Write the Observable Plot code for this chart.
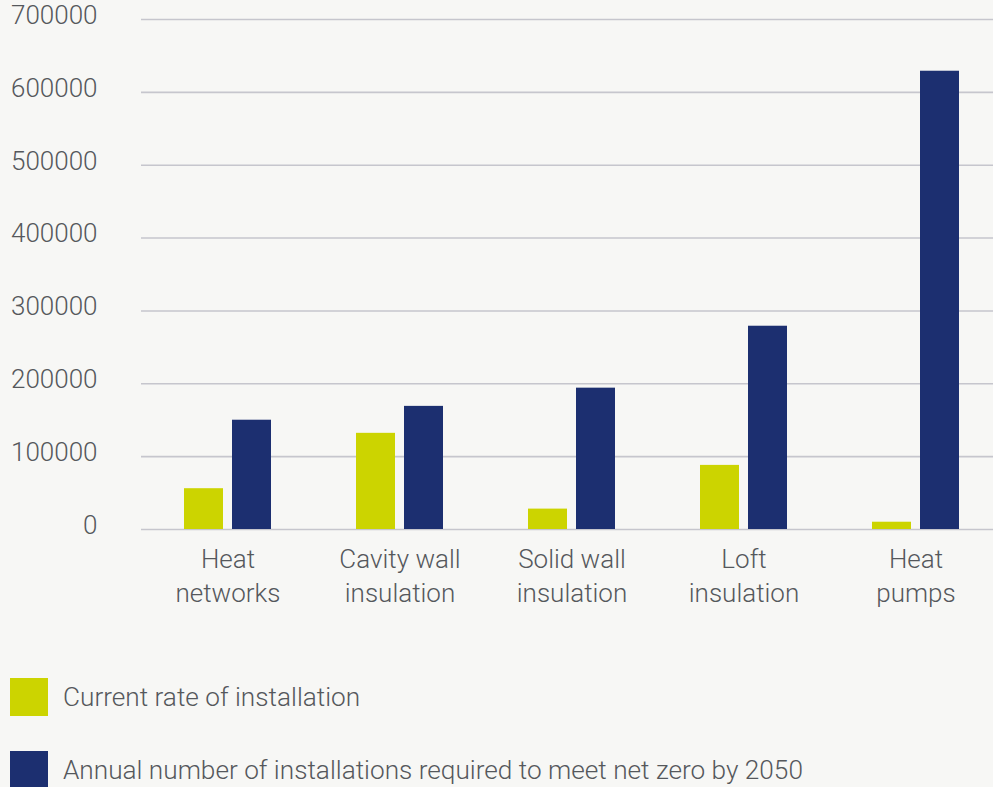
<!DOCTYPE html>
<html><head><meta charset="utf-8">
<script src="https://cdn.jsdelivr.net/npm/d3@7"></script>
<script src="https://cdn.jsdelivr.net/npm/@observablehq/plot@0.6"></script>
<style>
html,body{margin:0;padding:0;background:#f7f7f5;overflow:hidden;}
body{width:993px;height:787px;font-family:Roboto,"Liberation Sans",sans-serif;font-weight:300;color:#55585c;}
#legend{position:relative;height:147px;}
.item{position:absolute;left:10px;display:flex;align-items:center;font-size:26.2px;height:38px;white-space:nowrap;}
.sw{width:38px;height:38px;margin-right:15px;flex:none;}
</style></head><body>
<div id="chart"></div>
<div id="legend"></div>
<script>
const categories = ["Heat networks","Cavity wall insulation","Solid wall insulation","Loft insulation","Heat pumps"];
const tickLabels = ["Heat\nnetworks","Cavity wall\ninsulation","Solid wall\ninsulation","Loft\ninsulation","Heat\npumps"];
const currentRate = [56000,132000,28000,88000,10000];
const requiredRate = [150000,169000,194000,279000,629000];
const seriesNames = ["Current rate of installation","Annual number of installations required to meet net zero by 2050"];
const seriesColors = ["#ccd400","#1c2f70"];
const yTicks = [0,100000,200000,300000,400000,500000,600000,700000];

const rows = categories.flatMap((c,i)=>[
  {category:c, series:seriesNames[0], value:currentRate[i]},
  {category:c, series:seriesNames[1], value:requiredRate[i]}
]);

const chart = Plot.plot({
  width: 993, height: 640,
  marginLeft: 141, marginRight: -9, marginTop: 19, marginBottom: 111,
  style: {background:"transparent", fontFamily:'Roboto,"Liberation Sans",sans-serif', fontSize:"26px", color:"#55585c", overflow:"visible"},
  x: {type:"band", domain:categories, paddingInner:0.495, paddingOuter:0.2475, label:null},
  y: {domain:[0,700000], label:null},
  color: {domain:seriesNames, range:seriesColors},
  marks: [
    Plot.ruleY(yTicks, {stroke:"#c6c6cd", strokeWidth:1.6}),
    Plot.barY(rows.filter(d=>d.series===seriesNames[0]), {x:"category", y:"value", fill:"series", insetRight:48}),
    Plot.barY(rows.filter(d=>d.series===seriesNames[1]), {x:"category", y:"value", fill:"series", insetLeft:48}),
    Plot.axisY({ticks:yTicks, tickSize:0, tickPadding:44, fontSize:26, fontWeight:300, dy:-4, tickFormat:d3.format("d"), label:null, style:{letterSpacing:"1px"}}),
    Plot.axisX({tickSize:0, tickPadding:15, fontSize:26, fontWeight:300, lineHeight:1.29, tickFormat:d=>tickLabels[categories.indexOf(d)], label:null})
  ]
});
document.getElementById("chart").appendChild(chart);

const legend = document.getElementById("legend");
seriesNames.forEach((name,i)=>{
  const item = document.createElement("div");
  item.className = "item";
  item.style.top = (38 + i*73) + "px";
  const sw = document.createElement("div");
  sw.className = "sw";
  sw.style.background = seriesColors[i];
  const label = document.createElement("span");
  label.textContent = name;
  item.appendChild(sw); item.appendChild(label);
  legend.appendChild(item);
});
</script>
</body></html>
